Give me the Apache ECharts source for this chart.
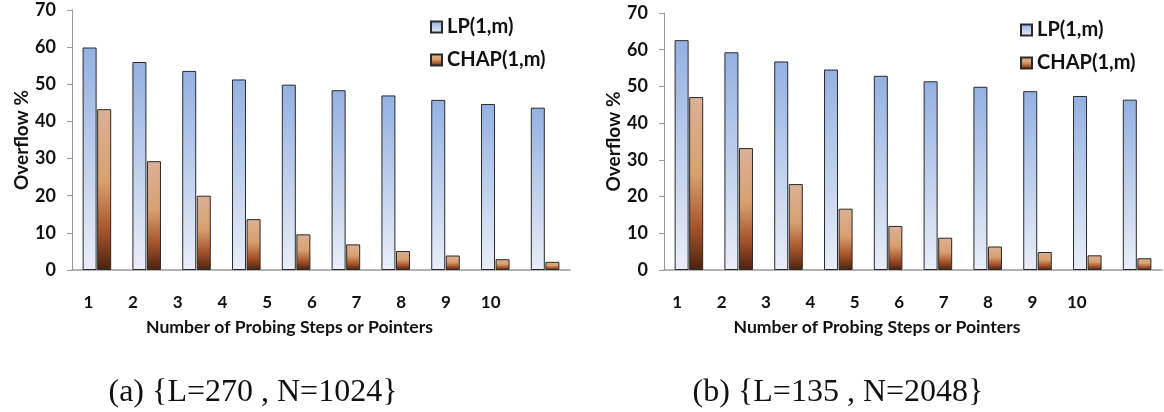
<!DOCTYPE html>
<html>
<head>
<meta charset="utf-8">
<title>Overflow %</title>
<script src="https://cdn.jsdelivr.net/npm/echarts@6.0.0/dist/echarts.min.js"></script>
<style>
  html, body { margin: 0; padding: 0; background: #fff; }
  #chart { width: 1164px; height: 412px; }
</style>
</head>
<body>
<div id="chart"></div>
<script>
// data
var steps = ['1', '2', '3', '4', '5', '6', '7', '8', '9', '10'];
var lpA   = [59.9, 56.0, 53.6, 51.3, 49.9, 48.4, 47.0, 45.8, 44.7, 43.7];
var chapA = [43.3, 29.3, 20.0, 13.7, 9.6, 6.9, 5.1, 3.9, 2.9, 2.2];
var lpB   = [62.6, 59.3, 56.8, 54.6, 52.9, 51.4, 49.9, 48.7, 47.4, 46.4];
var chapB = [47.1, 33.2, 23.4, 16.7, 12.0, 8.8, 6.4, 4.9, 4.0, 3.2];
var seriesNames = ['LP(1,m)', 'CHAP(1,m)'];
var captions = ['(a) {L=270 , N=1024}', '(b) {L=135 , N=2048}'];
var yMin = 0, yMax = 70, yStep = 10;

var font = 'Lato, "Open Sans", sans-serif';
var serif = '"Liberation Serif", "DejaVu Serif", serif';

var myChart = echarts.init(document.getElementById('chart'));

// 柱子的渐变色
var blueFill = new echarts.graphic.LinearGradient(0, 0, 0, 1, [
    { offset: 0, color: '#93b1e2' },
    { offset: 1, color: '#e9eef8' }
]);
var brownFill = new echarts.graphic.LinearGradient(0, 0, 0, 1, [
    { offset: 0, color: '#dcb198' },
    { offset: 0.45, color: '#d7a06e' },
    { offset: 0.75, color: '#a8552b' },
    { offset: 1, color: '#4c220e' }
]);

function yAxisOf(idx) {
    return {
        type: 'value',
        gridIndex: idx,
        min: yMin,
        max: yMax,
        interval: yStep,
        name: 'Overflow %',
        nameLocation: 'middle',
        nameGap: 39,
        nameTextStyle: { color: '#111', fontFamily: font, fontWeight: 'bold', fontSize: 19 },
        axisLine: { show: true, lineStyle: { color: '#9a9a9a', width: 1 } },
        axisTick: { show: true, length: 5, lineStyle: { color: '#9a9a9a' } },
        axisLabel: { margin: 16, color: '#111', fontFamily: font, fontWeight: 'bold', fontSize: 18 },
        splitLine: { show: false }
    };
}

function barAxisOf(idx) {
    return {
        type: 'category',
        gridIndex: idx,
        data: steps,
        axisLine: { show: true, lineStyle: { color: '#9a9a9a', width: 1.5 } },
        axisTick: { show: false },
        axisLabel: { show: false }
    };
}

// 横轴刻度文字单独一个网格（原图中刻度与柱子不完全对齐）
function labelAxisOf(idx) {
    return {
        type: 'category',
        gridIndex: idx,
        data: steps,
        axisLine: { show: false },
        axisTick: { show: false },
        axisLabel: { margin: 24, color: '#111', fontFamily: font, fontWeight: 'bold', fontSize: 17 },
        name: 'Number of Probing Steps or Pointers',
        nameLocation: 'middle',
        nameGap: 48,
        nameTextStyle: { color: '#111', fontFamily: font, fontWeight: 'bold', fontSize: 17.6 }
    };
}

function barSeries(name, data, fill, axisIdx) {
    return {
        name: name,
        type: 'bar',
        xAxisIndex: axisIdx,
        yAxisIndex: axisIdx,
        data: data,
        barWidth: 14,
        barGap: '4%',
        itemStyle: { color: fill, borderColor: '#2a2a2a', borderWidth: 1 }
    };
}

function legendAt(left, top) {
    return {
        orient: 'vertical',
        left: left,
        top: top,
        padding: 0,
        icon: 'rect',
        itemWidth: 11,
        itemHeight: 11,
        itemGap: 13,
        data: seriesNames,
        textStyle: { color: '#111', fontFamily: font, fontWeight: 'bold', fontSize: 20 }
    };
}

var option = {
    backgroundColor: '#fff',
    animation: false,
    title: [
        { text: captions[0], left: 248, top: 372, textAlign: 'center',
          textStyle: { fontFamily: serif, fontWeight: 'normal', fontSize: 32, color: '#111' } },
        { text: captions[1], left: 833, top: 372, textAlign: 'center',
          textStyle: { fontFamily: serif, fontWeight: 'normal', fontSize: 32, color: '#111' } }
    ],
    legend: [legendAt(430, 17), legendAt(1020, 20)],
    grid: [
        { left: 72, top: 10, width: 498, height: 260 },
        { left: 664, top: 13, width: 498, height: 257 },
        { left: 66, top: 260, width: 447, height: 10 },
        { left: 655, top: 260, width: 444, height: 10 }
    ],
    xAxis: [barAxisOf(0), barAxisOf(1), labelAxisOf(2), labelAxisOf(3)],
    yAxis: [yAxisOf(0), yAxisOf(1),
        { type: 'value', gridIndex: 2, show: false },
        { type: 'value', gridIndex: 3, show: false }],
    series: [
        barSeries(seriesNames[0], lpA, blueFill, 0),
        barSeries(seriesNames[1], chapA, brownFill, 0),
        barSeries(seriesNames[0], lpB, blueFill, 1),
        barSeries(seriesNames[1], chapB, brownFill, 1)
    ]
};

myChart.setOption(option);
window.addEventListener('resize', function () {
    myChart.resize();
});
</script>
</body>
</html>
